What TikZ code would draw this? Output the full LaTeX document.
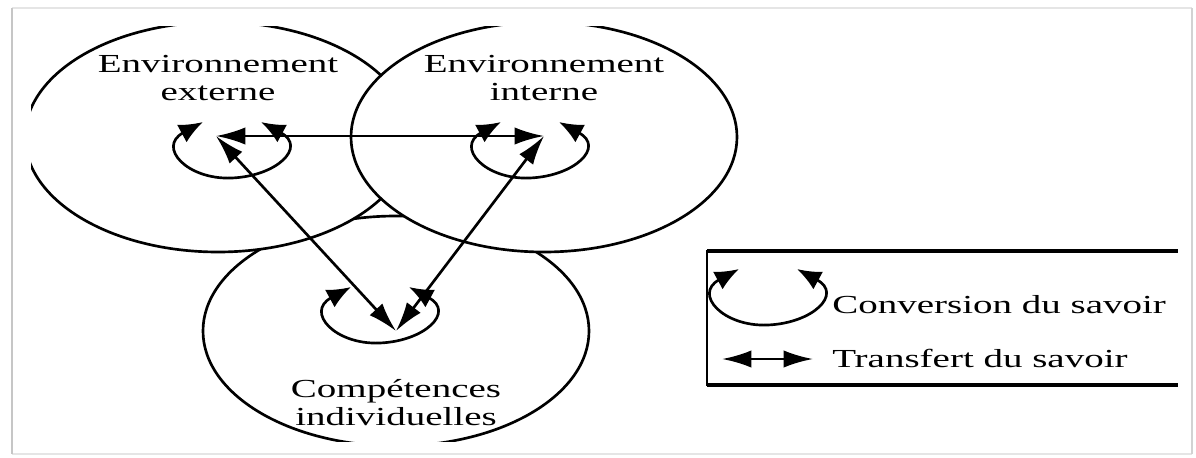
\documentclass[tikz,border=0pt]{standalone}
\usepackage{fontspec}
\setmainfont{Liberation Serif}[FakeStretch=1.5]
\usetikzlibrary{arrows.meta}

\tikzset{
  ring/.style={draw=black,line width=2pt,fill=white},
  lbl/.style={font=\fontsize{19.5pt}{21pt}\selectfont,align=center,anchor=base,inner sep=0pt},
  transfer/.style={line width=2pt,{Latex[length=22pt,width=13pt]}-{Latex[length=22pt,width=13pt]}},
  convline/.style={line width=2pt,{Latex[length=18pt,width=15pt]}-{Latex[length=18pt,width=15pt]}},
  conv/.pic={\draw[convline] (-29,0) .. controls (-75,25) and (-45,58) .. (0,56)
                             .. controls (45,54) and (75,25) .. (29,0);},
  legline/.style={line width=2.6pt},
}

\begin{document}
\begin{tikzpicture}[x=0.75pt,y=-0.75pt]
  % page and its thin grey frame
  \fill[white] (0,0) rectangle (1196,457);
  \useasboundingbox (0,0) rectangle (1196,457);
  \draw[gray!20,line width=1pt] (12,8) -- (1192,8);
  \draw[gray!20,line width=1pt] (12,454) -- (1192,454);
  \draw[gray!45,line width=2pt] (12,8) -- (12,454);
  \draw[gray!35,line width=1.5pt] (1192,8) -- (1192,454);

  % the three overlapping domains, cut by the figure's edges
  \begin{scope}
    \clip (31,26) rectangle (1190,441);
    \draw[ring] (396,331) ellipse [x radius=193, y radius=115];
    \draw[ring] (218,137) ellipse [x radius=193, y radius=115];
    \draw[ring] (544,137) ellipse [x radius=193, y radius=115];
  \end{scope}

  % domain names (anchored on the baseline of their last line)
  \node[lbl] (ext) at (218,100) {Environnement\\externe};
  \node[lbl] (int) at (544,100) {Environnement\\interne};
  \node[lbl] (comp) at (396,425) {Compétences\\individuelles};

  % hubs where knowledge is transferred
  \coordinate (hubE) at (216,136);
  \coordinate (hubI) at (544,136);
  \coordinate (hubC) at (396,331);

  % knowledge conversion inside each domain
  \pic at (232,122) {conv};
  \pic at (530,122) {conv};
  \pic at (380,287) {conv};

  % knowledge transfer between domains
  \draw[transfer] (hubE) -- (hubI);
  \draw[transfer] (hubE) -- (hubC);
  \draw[transfer] (hubI) -- (hubC);

  % legend
  \draw[legline] (707,251) -- (1178,251);
  \draw[legline] (707,385) -- (1178,385);
  \draw[line width=1.4pt] (707,250) -- (707,386);
  \pic at (768,269) {conv};
  \coordinate (legL) at (722,359);
  \coordinate (legR) at (813,359);
  \draw[transfer] (legL) -- (legR);
  \node[lbl,anchor=base west] (convtxt) at (832,313) {Conversion du savoir};
  \node[lbl,anchor=base west] (transtxt) at (832,367) {Transfert du savoir};
\end{tikzpicture}
\end{document}
